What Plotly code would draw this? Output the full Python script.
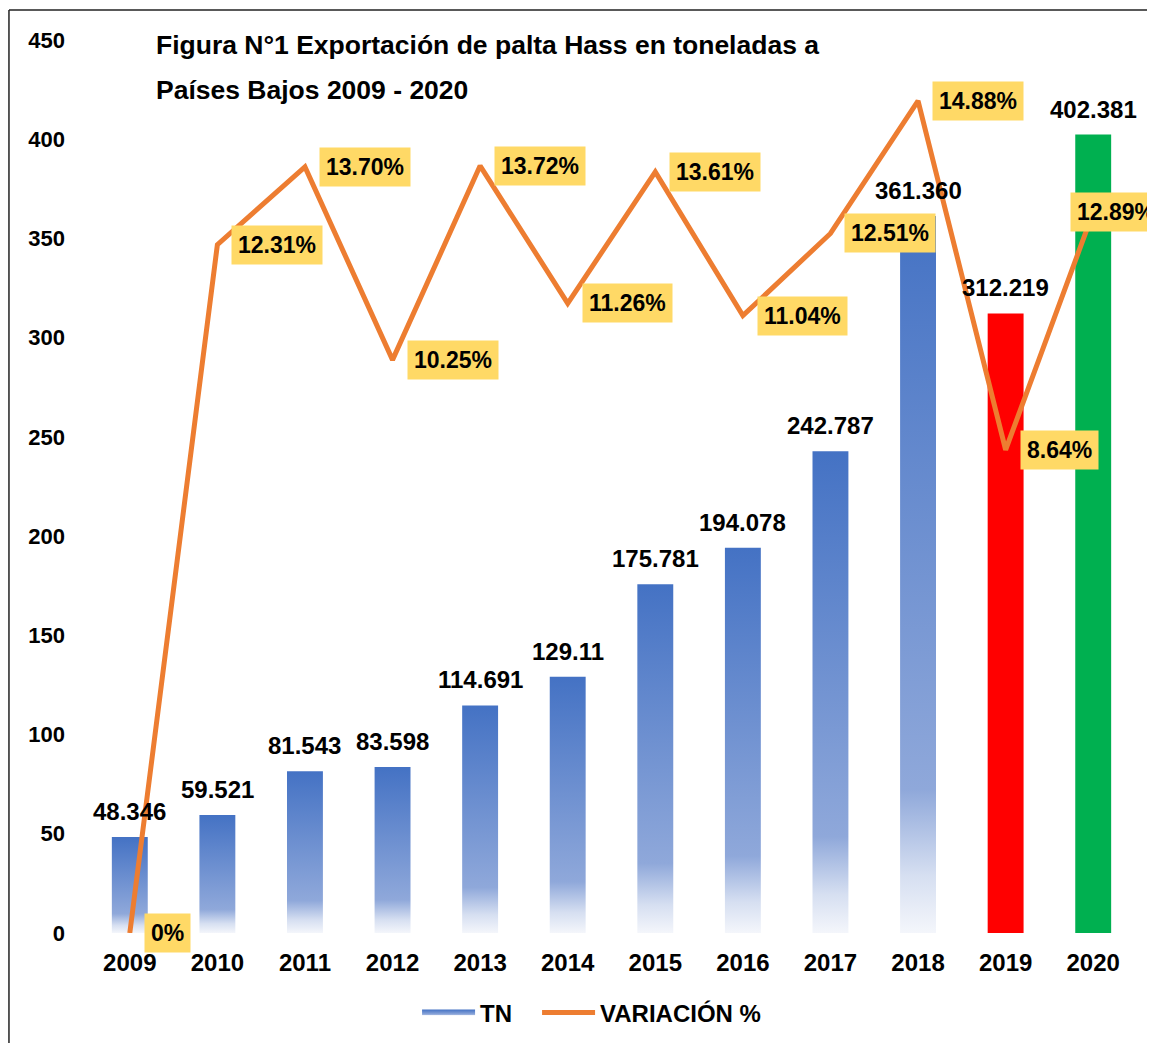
import plotly.graph_objects as go

# datos (miles de toneladas) y variación porcentual
anios = [2009, 2010, 2011, 2012, 2013, 2014, 2015, 2016, 2017, 2018, 2019, 2020]
toneladas = [48.346, 59.521, 81.543, 83.598, 114.691, 129.11, 175.781,
             194.078, 242.787, 361.360, 312.219, 402.381]
etiquetas_tn = ["48.346", "59.521", "81.543", "83.598", "114.691", "129.11",
                "175.781", "194.078", "242.787", "361.360", "312.219", "402.381"]
variacion = [0, 12.31, 13.70, 10.25, 13.72, 11.26, 13.61, 11.04, 12.51,
             14.88, 8.64, 12.89]
etiquetas_var = ["0%", "12.31%", "13.70%", "10.25%", "13.72%", "11.26%",
                 "13.61%", "11.04%", "12.51%", "14.88%", "8.64%", "12.89%"]

C_NARANJA = "#ED7D31"
C_AMARILLO = "#FFD966"
C_ROJO = "#FF0000"
C_VERDE = "#00B050"
FUENTE = "Liberation Sans, Arial, sans-serif"
GRADIENTE = [[0.0, "#F4F6FB"], [0.08, "#D6DFF1"], [0.2, "#8FA8DA"], [1.0, "#4472C4"]]
MEDIO_ANCHO = 0.205

fig = go.Figure()

# barras con degradado (2009-2018) dibujadas como rellenos con fillgradient
for i, (a, v) in enumerate(zip(anios[:10], toneladas[:10])):
    fig.add_trace(go.Scatter(
        x=[a - MEDIO_ANCHO, a - MEDIO_ANCHO, a + MEDIO_ANCHO, a + MEDIO_ANCHO, a - MEDIO_ANCHO],
        y=[0, v, v, 0, 0], mode="none", fill="toself",
        fillgradient=dict(type="vertical", colorscale=GRADIENTE, start=0, stop=v),
        name="TN\u00a0\u00a0\u00a0", legendgroup="tn", showlegend=(i == 0),
        hoverinfo="skip"))

# 2019 y 2020 en colores sólidos
fig.add_trace(go.Bar(x=anios[10:], y=toneladas[10:], width=2 * MEDIO_ANCHO,
                     marker=dict(color=[C_ROJO, C_VERDE], line_width=0),
                     showlegend=False, legendgroup="tn"))

# línea de variación en eje secundario
fig.add_trace(go.Scatter(x=anios, y=variacion, yaxis="y2", mode="lines",
                         name="VARIACIÓN %",
                         line=dict(color=C_NARANJA, width=5)))

# etiquetas de toneladas
for a, v, t in zip(anios, toneladas, etiquetas_tn):
    fig.add_annotation(x=a, y=v, xref="x", yref="y", text=t, showarrow=False,
                       yanchor="bottom", yshift=10,
                       font=dict(size=24, color="#000000", family=FUENTE, weight="bold"))

# etiquetas de variación con recuadro amarillo
for i, (a, p, t) in enumerate(zip(anios, variacion, etiquetas_var)):
    fig.add_annotation(x=a, y=p, xref="x", yref="y2", text=t, showarrow=False,
                       xanchor="left", xshift=(-23 if i == len(anios) - 1 else 14),
                       bgcolor=C_AMARILLO, borderpad=6,
                       font=dict(size=23, color="#000000", family=FUENTE, weight="bold"))

# título en dos líneas
for txt, yy in [("Figura N°1 Exportación de palta Hass en toneladas a", 0.9944),
                ("Países Bajos 2009 - 2020", 0.944)]:
    fig.add_annotation(x=0.0648, y=yy, xref="paper", yref="paper", text=txt,
                       showarrow=False, xanchor="left", yanchor="middle",
                       font=dict(size=26.5, color="#000000", family=FUENTE, weight="bold"))

# marco del gráfico (solo bordes superior e izquierdo quedan visibles)
marco = dict(color="#222222", width=1.5)
fig.add_shape(type="line", xref="paper", yref="paper",
              x0=-0.0733, x1=1.2, y0=1.0336, y1=1.0336, line=marco, layer="above")
fig.add_shape(type="line", xref="paper", yref="paper",
              x0=-0.0733, x1=-0.0733, y0=-0.3, y1=1.0336, line=marco, layer="above")

fig.update_layout(
    width=1155, height=1043,
    margin=dict(l=78, r=26, t=32, b=118),
    paper_bgcolor="#FFFFFF", plot_bgcolor="#FFFFFF",
    font=dict(family=FUENTE, color="#000000", weight="bold"),
    xaxis=dict(range=[2008.5, 2020.5], tickmode="array", tickvals=anios,
               ticktext=[str(a) for a in anios], showgrid=False, zeroline=False,
               showline=False, ticks="", ticklabelstandoff=13,
               tickfont=dict(size=24, weight="bold")),
    yaxis=dict(range=[0, 450], tickmode="array", tickvals=list(range(0, 451, 50)),
               showgrid=False, zeroline=False, showline=False, ticks="",
               ticklabelstandoff=20, tickfont=dict(size=22, weight="bold")),
    yaxis2=dict(range=[0, 15.97], overlaying="y", side="right", visible=False),
    legend=dict(orientation="h", x=0.315, y=-0.0896, xanchor="left", yanchor="middle",
                font=dict(size=24, weight="bold"), itemwidth=53),
    showlegend=True,
)

fig.write_html("out.html")
